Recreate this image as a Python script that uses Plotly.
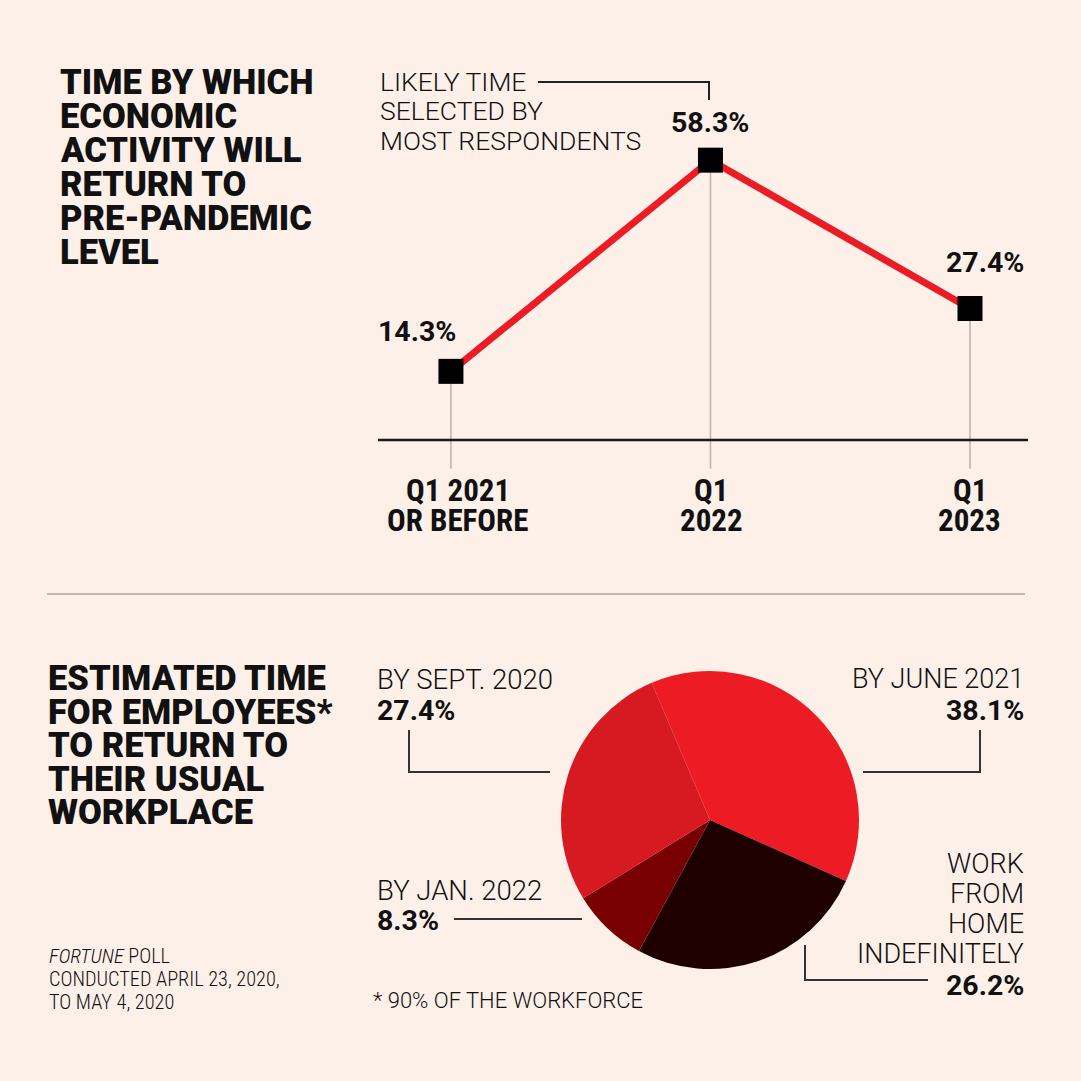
import plotly.graph_objects as go

W = H = 1081
BG = "#FDF0E9"
INK = "#111111"
RED = "#ED1C24"

# ---------------- data ----------------
line_tick_lines = [["Q1 2021", "OR BEFORE"], ["Q1", "2022"], ["Q1", "2023"]]
line_values = [14.3, 58.3, 27.4]

pie_labels = ["BY JUNE 2021", "WORK FROM HOME INDEFINITELY", "BY JAN. 2022", "BY SEPT. 2020"]
pie_values = [38.1, 26.2, 8.3, 27.4]
pie_colors = ["#ED1C24", "#1F0000", "#780000", "#D71A21"]

title_top = ["TIME BY WHICH", "ECONOMIC", "ACTIVITY WILL", "RETURN TO", "PRE-PANDEMIC", "LEVEL"]
title_bottom = ["ESTIMATED TIME", "FOR EMPLOYEES*", "TO RETURN TO", "THEIR USUAL", "WORKPLACE"]
callout_lines = ["LIKELY TIME", "SELECTED BY", "MOST RESPONDENTS"]
source_lines = ["<i>FORTUNE</i> POLL", "CONDUCTED APRIL 23, 2020,", "TO MAY 4, 2020"]
footnote = "* 90% OF THE WORKFORCE"

HEAVY = "Roboto"
LIGHT = "Roboto"
COND = "Roboto Condensed"
BOLD = "Roboto"


def X(px):
    return px / W


def Y(py):
    return 1 - py / H


annotations = []
shapes = []


def text(px, py, s, size, family, weight=400, xanchor="left", color=INK):
    annotations.append(dict(
        x=X(px), y=Y(py), xref="paper", yref="paper", text=s, showarrow=False,
        xanchor=xanchor, yanchor="middle",
        font=dict(family=family, size=size, color=color, weight=weight)))


def seg(x0, y0, x1, y1, color="#333333", width=2):
    shapes.append(dict(type="line", xref="paper", yref="paper",
                       x0=X(x0), y0=Y(y0), x1=X(x1), y1=Y(y1),
                       line=dict(color=color, width=width)))


fig = go.Figure()

# ---------------- line chart ----------------
xs = list(range(len(line_values)))
drop_x, drop_y = [], []
for i, v in zip(xs, line_values):
    drop_x += [i, i, None]
    drop_y += [v, -6, None]
fig.add_trace(go.Scatter(x=drop_x, y=drop_y, mode="lines",
                         line=dict(color="#BDB6B2", width=1.6),
                         hoverinfo="skip", showlegend=False))
fig.add_trace(go.Scatter(x=xs, y=line_values, mode="lines+markers",
                         line=dict(color=RED, width=7),
                         marker=dict(symbol="square", size=25, color="#000000",
                                     line=dict(width=0)),
                         hoverinfo="skip", showlegend=False))

# x-axis baseline at value 0
shapes.append(dict(type="line", xref="paper", yref="y", x0=X(378), x1=X(1028),
                   y0=0, y1=0, line=dict(color="#1A1A1A", width=2.5)))

# value labels
label_shift = [(-34, 40), (0, 38), (15, 46)]
for i, v, (dx, dy) in zip(xs, line_values, label_shift):
    annotations.append(dict(x=i, y=v, xref="x", yref="y", text=f"{v}%",
                            showarrow=False, xshift=dx, yshift=dy,
                            xanchor="center", yanchor="middle",
                            font=dict(family=BOLD, size=28.5, color=INK, weight=700)))

# category labels
tick_shift = [7, 1, 0]
for i, lines, dx in zip(xs, line_tick_lines, tick_shift):
    for k, ln in enumerate(lines):
        annotations.append(dict(x=i, y=Y(490 + 30 * k), xref="x", yref="paper",
                                text=ln, showarrow=False, xshift=dx,
                                xanchor="center", yanchor="middle",
                                font=dict(family=COND, size=31, color=INK, weight=700)))

# titles
for k, ln in enumerate(title_top):
    text(58, 82 + 34 * k, ln, 34.5, HEAVY, 900)
for k, ln in enumerate(title_bottom):
    text(46, 678 + 33.5 * k, ln, 34.5, HEAVY, 900)

# callout
for k, ln in enumerate(callout_lines):
    text(378, 81 + 29.5 * k, ln, 26.5, LIGHT, 300)
seg(538, 82, 709, 82, "#222222", 2)
seg(709, 81, 709, 100, "#222222", 2)

# divider
seg(47, 594, 1025, 594, "#BDB6B2", 2)

# ---------------- pie ----------------
fig.add_trace(go.Pie(labels=pie_labels, values=pie_values, sort=False,
                     direction="clockwise", rotation=-23,
                     marker=dict(colors=pie_colors, line=dict(width=0)),
                     textinfo="none", hoverinfo="skip", showlegend=False,
                     domain=dict(x=[X(561), X(859)], y=[Y(969), Y(671)])))

# pie labels
lab = dict(zip(pie_labels, pie_values))
text(375, 679, "BY SEPT. 2020", 27.5, LIGHT, 300)
text(375, 710, f"{lab['BY SEPT. 2020']}%", 28.5, BOLD, 700)
seg(409, 730, 409, 772)
seg(408, 772, 550, 772)

text(375, 890, "BY JAN. 2022", 27.5, LIGHT, 300)
text(375, 920, f"{lab['BY JAN. 2022']}%", 28.5, BOLD, 700)
seg(454, 919, 582, 919)

text(1026, 679, "BY JUNE 2021", 27, LIGHT, 300, xanchor="right")
text(1026, 710, f"{lab['BY JUNE 2021']}%", 28.5, BOLD, 700, xanchor="right")
seg(980, 730, 980, 772)
seg(981, 772, 863, 772)

for k, ln in enumerate(["WORK", "FROM", "HOME", "INDEFINITELY"]):
    text(1026, 864 + 30 * k, ln, 27, LIGHT, 300, xanchor="right")
text(1026, 985, f"{lab['WORK FROM HOME INDEFINITELY']}%", 28.5, BOLD, 700, xanchor="right")
seg(805, 945, 805, 980)
seg(804, 980, 928, 980)

# source / footnote
for k, ln in enumerate(source_lines):
    text(47, 956 + 23 * k, ln, 20.3, COND, 300)
text(371, 1000, footnote, 22, LIGHT, 300)

fig.update_layout(
    width=W, height=H,
    margin=dict(l=0, r=0, t=0, b=0),
    paper_bgcolor=BG, plot_bgcolor=BG,
    xaxis=dict(domain=[X(378), X(1028)], range=[-0.281, 2.2235],
               visible=False, fixedrange=True),
    yaxis=dict(domain=[Y(480), Y(130)], range=[-8.333, 64.583],
               visible=False, fixedrange=True),
    annotations=annotations, shapes=shapes,
    showlegend=False,
)

fig.write_html("out.html", config=dict(displayModeBar=False),
               post_script="document.body.style.margin='0';document.body.style.overflow='hidden';")
